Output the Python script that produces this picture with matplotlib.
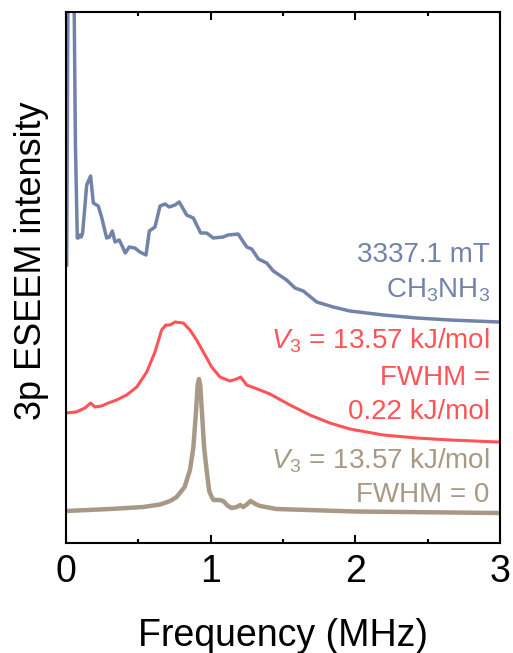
import matplotlib
matplotlib.use('Agg')
import matplotlib.pyplot as plt
from matplotlib.ticker import MultipleLocator

plt.rcParams['font.family'] = ['Liberation Sans', 'DejaVu Sans']
plt.rcParams['mathtext.fontset'] = 'custom'
plt.rcParams['mathtext.rm'] = 'Liberation Sans'
plt.rcParams['mathtext.it'] = 'Liberation Sans:italic'

# 3337.1 mT experiment, CH3NH3 (arb. units)
freq_exp = [0.005, 0.015, 0.04, 0.055, 0.065, 0.078, 0.085, 0.095, 0.105, 0.115,
            0.143, 0.17, 0.189, 0.223, 0.246, 0.281, 0.30, 0.32, 0.339, 0.368,
            0.385, 0.41, 0.437, 0.476, 0.511, 0.553, 0.576, 0.615, 0.65, 0.684,
            0.714, 0.753, 0.783, 0.834, 0.88, 0.931, 0.972, 1.018, 1.087, 1.12,
            1.19, 1.249, 1.284, 1.33, 1.387, 1.433, 1.525, 1.583, 1.64, 1.733,
            1.847, 1.963, 2.193, 2.424, 2.654, 2.99]
int_exp = [2.78, 6.0, 6.6, 5.6, 4.0, 3.05, 3.05, 3.08, 3.06, 3.10,
           3.58, 3.67, 3.40, 3.37, 3.26, 3.05, 3.06, 3.12, 3.01, 3.03,
           2.98, 2.90, 2.96, 2.95, 2.91, 2.88, 3.12, 3.16, 3.37, 3.39,
           3.36, 3.38, 3.41, 3.28, 3.25, 3.10, 3.10, 3.05, 3.06, 3.08,
           3.09, 2.96, 2.94, 2.84, 2.80, 2.72, 2.63, 2.55, 2.52, 2.41,
           2.36, 2.32, 2.28, 2.25, 2.23, 2.21]

# simulation, FWHM = 0.22 kJ/mol
freq_sim1 = [0.0, 0.07, 0.131, 0.17, 0.2, 0.246, 0.293, 0.35, 0.419, 0.489,
             0.558, 0.615, 0.661, 0.69, 0.72, 0.753, 0.811, 0.857, 0.903, 0.949,
             1.007, 1.064, 1.133, 1.18, 1.207, 1.249, 1.341, 1.41, 1.548, 1.686,
             1.824, 1.963, 2.193, 2.424, 2.654, 2.99]
int_sim1 = [1.30, 1.31, 1.35, 1.40, 1.36, 1.37, 1.40, 1.43, 1.48, 1.56,
            1.71, 1.91, 2.13, 2.18, 2.18, 2.21, 2.20, 2.13, 2.03, 1.91,
            1.76, 1.66, 1.62, 1.64, 1.66, 1.58, 1.53, 1.49, 1.38, 1.28,
            1.20, 1.14, 1.08, 1.05, 1.03, 1.01]

# simulation, FWHM = 0
freq_sim0 = [0.0, 0.304, 0.534, 0.65, 0.72, 0.765, 0.82, 0.857, 0.88, 0.898,
             0.91, 0.919, 0.928, 0.94, 0.955, 0.972, 0.99, 1.007, 1.02, 1.06,
             1.087, 1.12, 1.145, 1.18, 1.205, 1.225, 1.245, 1.276, 1.31, 1.341,
             1.456, 2.0, 2.99]
int_sim0 = [0.32, 0.34, 0.36, 0.385, 0.42, 0.46, 0.56, 0.73, 0.95, 1.30,
            1.58, 1.64, 1.58, 1.30, 0.95, 0.73, 0.52, 0.46, 0.43, 0.43,
            0.42, 0.37, 0.35, 0.36, 0.38, 0.36, 0.38, 0.42, 0.39, 0.37,
            0.34, 0.315, 0.30]

c_exp = '#7282AA'
c_sim1 = '#FF5457'
c_sim0 = '#A89886'

fig = plt.figure(figsize=(5.13, 6.53), dpi=100)
ax = fig.add_axes([66 / 513, 1 - 543 / 653, 434 / 513, 531 / 653])

ax.plot(freq_exp, int_exp, color=c_exp, lw=2.5, solid_joinstyle='round')
ax.plot(freq_sim1, int_sim1, color=c_sim1, lw=2.2, solid_joinstyle='round')
ax.plot(freq_sim0, int_sim0, color=c_sim0, lw=3.2, solid_joinstyle='round')

ax.set_xlim(0, 3)
ax.set_ylim(0, 5.31)
ax.set_yticks([])
ax.xaxis.set_major_locator(MultipleLocator(1))
ax.xaxis.set_minor_locator(MultipleLocator(0.5))
ax.tick_params(axis='x', which='both', direction='in', top=True, labelsize=27, width=1.5, pad=8)
ax.tick_params(axis='x', which='major', length=6)
ax.tick_params(axis='x', which='minor', length=3)
for s in ax.spines.values():
    s.set_linewidth(1.5)

ax.set_xlabel('Frequency (MHz)', fontsize=27, labelpad=20)
ax.set_ylabel('3p ESEEM intensity', fontsize=26, labelpad=12)
ax.yaxis.label.set_y(0.532)

fs = 20
x_txt = 2.93
ax.text(x_txt, 2.81, '3337.1 mT', color=c_exp, fontsize=fs, ha='right', va='baseline')
ax.text(x_txt, 2.46, 'CH$_3$NH$_3$', color=c_exp, fontsize=fs, ha='right', va='baseline')
ax.text(x_txt, 1.95, '$V_3$ = 13.57 kJ/mol', color=c_sim1, fontsize=fs, ha='right', va='baseline')
ax.text(x_txt, 1.58, 'FWHM =', color=c_sim1, fontsize=fs, ha='right', va='baseline')
ax.text(x_txt, 1.24, '0.22 kJ/mol', color=c_sim1, fontsize=fs, ha='right', va='baseline')
ax.text(x_txt, 0.75, '$V_3$ = 13.57 kJ/mol', color=c_sim0, fontsize=fs, ha='right', va='baseline')
ax.text(x_txt, 0.41, 'FWHM = 0', color=c_sim0, fontsize=fs, ha='right', va='baseline')

fig.savefig('out.png', dpi=100)
